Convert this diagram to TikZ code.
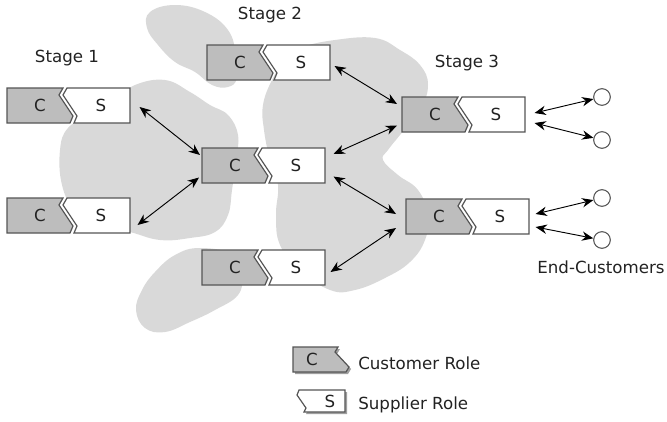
\documentclass[tikz,border=0pt]{standalone}
\usepackage{fontspec}
\setmainfont{DejaVu Sans}
\usetikzlibrary{arrows.meta,calc}
\definecolor{cloudgray}{HTML}{D9D9D9}
\definecolor{cfill}{HTML}{BDBDBD}
\definecolor{edgegray}{HTML}{555555}
\definecolor{txt}{HTML}{222222}
\tikzset{
  boxline/.style={draw=edgegray, line width=0.9pt, line join=miter},
  lbl/.style={inner sep=0pt, text=txt, font=\fontsize{12.5pt}{15pt}\selectfont},
  arr/.style={draw=black, line width=0.7pt, {Stealth[length=8.5pt,width=7pt]}-{Stealth[length=8.5pt,width=7pt]}},
  cust/.style={circle, draw=edgegray, fill=white, line width=0.8pt, minimum size=12.5pt, inner sep=0pt},
  cloud/.style={fill=cloudgray, draw=none},
  anchorbox/.style={inner sep=0pt, minimum width=92.25pt, minimum height=26.25pt, anchor=north west}
}
\newcommand\rolepair[3]{%
  \begin{scope}[shift={(#2,#3)}]
    \draw[boxline, fill=cfill] (0,0) -- (56,0) -- (52,7) -- (66,28) -- (63,35) -- (0,35) -- cycle;
    \draw[boxline, fill=white] (60,0) -- (56,7) -- (70,28) -- (67,35) -- (123,35) -- (123,0) -- cycle;
    \node[lbl] at (33,17.5) {C};
    \node[lbl] at (94,17.5) {S};
    \node[anchorbox] (#1) at (0,0) {};
  \end{scope}}
\begin{document}
\begin{tikzpicture}[x=0.75pt, y=-0.75pt]
\useasboundingbox (0,0) rectangle (667,421);
% clouds
\fill[cloud] plot[smooth cycle, tension=0.7] coordinates {(150,12) (175,5) (205,12) (228,30) (236,55) (237,78) (228,87) (212,85) (195,72) (175,62) (158,45) (147,28)};
\fill[cloud] plot[smooth cycle, tension=0.7] coordinates {(135,85) (165,80) (190,92) (210,105) (228,115) (238,135) (236,160) (232,190) (228,215) (215,232) (190,238) (160,240) (130,232) (100,225) (75,210) (62,185) (60,150) (68,128) (90,115) (115,100)};
\fill[cloud] plot[smooth cycle, tension=0.7] coordinates {(300,48) (335,40) (375,38) (400,50) (420,65) (428,85) (420,110) (400,135) (388,150) (383,160) (398,175) (418,190) (428,215) (425,240) (410,262) (385,278) (355,290) (330,290) (300,270) (280,245) (276,215) (278,185) (270,160) (264,130) (263,105) (272,80) (285,60)};
\fill[cloud] plot[smooth cycle, tension=0.7] coordinates {(175,255) (200,248) (235,255) (242,275) (238,295) (215,310) (190,322) (165,332) (145,328) (136,310) (142,290) (155,272)};
% stage labels
\node[lbl] (st1) at (67,58) {Stage 1};
\node[lbl] (st2) at (270,15) {Stage 2};
\node[lbl] (st3) at (467,63) {Stage 3};
% role boxes
\rolepair{s1a}{7}{88}
\rolepair{s1b}{7}{198}
\rolepair{s2a}{207}{45}
\rolepair{s2b}{202}{148}
\rolepair{s2c}{202}{250}
\rolepair{s3a}{402}{97}
\rolepair{s3b}{406}{199}
% end customers
\node[cust] (c1) at (602,97) {};
\node[cust] (c2) at (602,140) {};
\node[cust] (c3) at (602,198) {};
\node[cust] (c4) at (602,240) {};
\node[lbl] (ec) at (601,267) {End-Customers};
% arrows
\draw[arr] ($(s1a.north east)+(9,19)$) -- ($(s2b.north west)+(-2,7)$);
\draw[arr] ($(s1b.north east)+(7,27)$) -- ($(s2b.south west)+(-3,-6)$);
\draw[arr] ($(s2a.north east)+(4,21)$) -- ($(s3a.north west)+(-5,7)$);
\draw[arr] ($(s2b.north east)+(8,6)$) -- ($(s3a.south west)+(-5,-7)$);
\draw[arr] ($(s2b.south east)+(8,-7)$) -- ($(s3b.north west)+(-10,15)$);
\draw[arr] ($(s2c.north east)+(5,22)$) -- ($(s3b.north west)+(-10,29)$);
\draw[arr] ($(s3a.north east)+(9,16)$) -- (c1);
\draw[arr] ($(s3a.north east)+(9,26)$) -- (c2);
\draw[arr] ($(s3b.north east)+(6,15)$) -- (c3);
\draw[arr] ($(s3b.north east)+(6,28)$) -- (c4);
% legend
\begin{scope}[shift={(293,347)}]
  \fill[gray!75, shift={(2,2)}] (0,0) -- (45,0) -- (42,5) -- (56,20) -- (53,25) -- (0,25) -- cycle;
  \draw[boxline, fill=cfill] (0,0) -- (45,0) -- (42,5) -- (56,20) -- (53,25) -- (0,25) -- cycle;
  \node[lbl] at (19,12.5) {C};
  \node[inner sep=0pt, minimum width=42pt, minimum height=18.75pt, anchor=north west] (legc) at (0,0) {};
\end{scope}
\begin{scope}[shift={(297,390)}]
  \fill[gray!75, shift={(2,2)}] (2,0) -- (0,5) -- (9,18) -- (7,22) -- (48,22) -- (48,0) -- cycle;
  \draw[boxline, fill=white] (2,0) -- (0,5) -- (9,18) -- (7,22) -- (48,22) -- (48,0) -- cycle;
  \node[lbl] at (33,11) {S};
  \node[inner sep=0pt, minimum width=36pt, minimum height=16.5pt, anchor=north west] (legs) at (0,0) {};
\end{scope}
\node[lbl, anchor=west] (lct) at (358,363) {Customer Role};
\node[lbl, anchor=west] (lst) at (358,405) {Supplier Role};
\end{tikzpicture}
\end{document}
